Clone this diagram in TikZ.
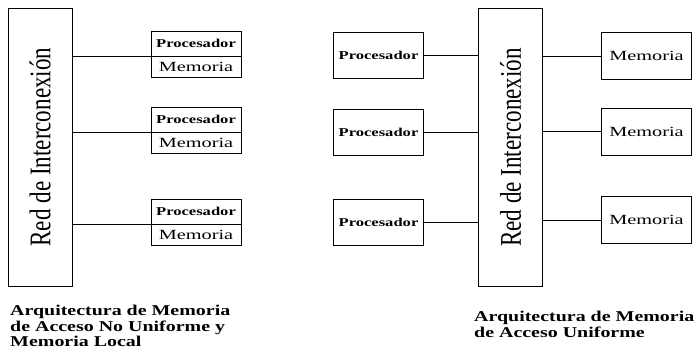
\documentclass[tikz,border=0pt]{standalone}
\usepackage{fontspec}
\setmainfont{Liberation Serif}
\newfontfamily\wideserif[FakeStretch=1.45]{Liberation Serif}
\newfontfamily\procserif[FakeStretch=1.38]{Liberation Serif}
\newfontfamily\titserif[FakeStretch=1.33]{Liberation Serif}
\newfontfamily\narrowserif[FakeStretch=0.77]{Liberation Serif}
\usetikzlibrary{positioning}

\begin{document}
\begin{tikzpicture}[x=1pt,y=-1pt,node distance=0pt]
\tikzstyle{net}=[draw,line width=0.8pt,inner sep=0pt,outer sep=0pt,minimum width=278pt,minimum height=64pt,rotate=90,font=\narrowserif\fontsize{30}{30}\selectfont]
\tikzstyle{P}=[draw,line width=0.8pt,inner sep=0pt,outer sep=0pt,minimum width=90pt,minimum height=25pt,font=\procserif\bfseries\fontsize{12}{13}\selectfont]
\tikzstyle{M}=[P,minimum height=21pt,font=\wideserif\fontsize{14}{15}\selectfont]
\tikzstyle{B}=[P,minimum height=46pt]
\tikzstyle{titulo}=[inner sep=0pt,anchor=north west,align=left,font=\titserif\bfseries\fontsize{15}{15.5}\selectfont]
\useasboundingbox (0,0) rectangle (697,350);
% memoria no uniforme
\node[net] (lnet) at (40,147) {Red de Interconexión};
\node[P] (lp1) at (196,43.5) {Procesador}; \node[M,below=of lp1] (lm1) {Memoria};
\node[P] (lp2) at (196,119.5) {Procesador}; \node[M,below=of lp2] (lm2) {Memoria};
\node[P] (lp3) at (196,211.5) {Procesador}; \node[M,below=of lp3] (lm3) {Memoria};
\draw[line width=0.6pt] (lnet.south |- lp1.south west) -- (lp1.south west);
\draw[line width=0.6pt] (lnet.south |- lp2.south west) -- (lp2.south west);
\draw[line width=0.6pt] (lnet.south |- lp3.south west) -- (lp3.south west);
\node[titulo] (ltit) at (10,305) {Arquitectura de Memoria\\de Acceso No Uniforme y\\Memoria Local};
% memoria uniforme
\node[net] (rnet) at (510.5,147.5) {Red de Interconexión};
\node[B] (rp1) at (378.5,55) {Procesador}; \node[B,M,minimum height=47pt] (rm1) at (646.5,56) {Memoria};
\node[B] (rp2) at (378.5,132.5) {Procesador}; \node[B,M,minimum height=47pt] (rm2) at (646.5,131.5) {Memoria};
\node[B] (rp3) at (378.5,222.5) {Procesador}; \node[B,M,minimum height=47pt] (rm3) at (646.5,220) {Memoria};
\draw[line width=0.6pt] (rp1.east) -- (rnet.north |- rp1.east); \draw[line width=0.6pt] (rnet.south |- rm1.west) -- (rm1.west);
\draw[line width=0.6pt] (rp2.east) -- (rnet.north |- rp2.east); \draw[line width=0.6pt] (rnet.south |- rm2.west) -- (rm2.west);
\draw[line width=0.6pt] (rp3.east) -- (rnet.north |- rp3.east); \draw[line width=0.6pt] (rnet.south |- rm3.west) -- (rm3.west);
\node[titulo] (rtit) at (474,311) {Arquitectura de Memoria\\de Acceso Uniforme};
\end{tikzpicture}
\end{document}
